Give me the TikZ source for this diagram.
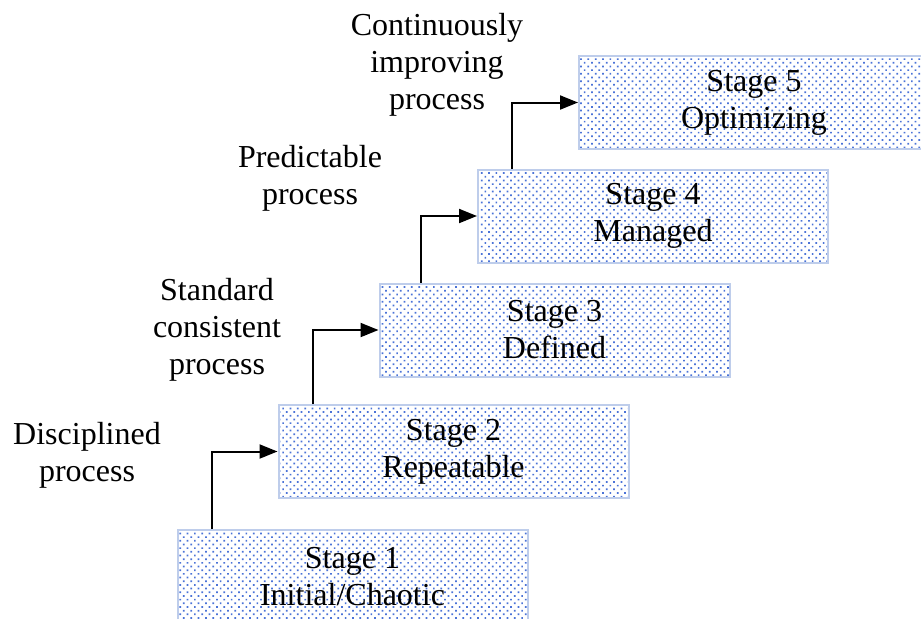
\documentclass[tikz,border=0pt]{standalone}
\usepackage{fontspec}
\setmainfont{Liberation Serif}
\usetikzlibrary{arrows.meta,patterns.meta}
\definecolor{dotblue}{RGB}{75,115,215}
\definecolor{edgeblue}{RGB}{190,205,235}
\tikzset{
  stage/.style={draw=edgeblue, line width=1pt, pattern={Dots[distance=2.6pt,radius=0.6pt,angle=45]},
    pattern color=dotblue, minimum width=175pt, minimum height=46.5pt, align=center, inner sep=0pt},
  label/.style={align=center},
  up/.style={-{Triangle[length=9pt,width=7pt]}, line width=1pt}
}
\begin{document}
\begin{tikzpicture}[x=0.5pt,y=-0.5pt,font=\fontsize{16}{18.5}\selectfont]
\useasboundingbox (0,0) rectangle (921,618);
\node [stage] (s1) at (352.5,576.5) {Stage 1\\Initial/Chaotic};
\node [stage] (s2) at (453.5,451.5) {Stage 2\\Repeatable};
\node [stage] (s3) at (554.5,330) {Stage 3\\Defined};
\node [stage] (s4) at (653,216) {Stage 4\\Managed};
\node [stage] (s5) at (754,102.5) {Stage 5\\Optimizing};

\node [label] (l1) at (87,455) {Disciplined\\process};
\node [label] (l2) at (217,330) {Standard\\consistent\\process};
\node [label] (l3) at (310,178) {Predictable\\process};
\node [label] (l4) at (437,65) {Continuously\\improving\\process};

\draw [up] ([xshift=17.5pt]s1.north west) |- (s2.west);
\draw [up] ([xshift=17.5pt]s2.north west) |- (s3.west);
\draw [up] ([xshift=21pt]s3.north west) |- (s4.west);
\draw [up] ([xshift=17.5pt]s4.north west) |- (s5.west);
\end{tikzpicture}
\end{document}
